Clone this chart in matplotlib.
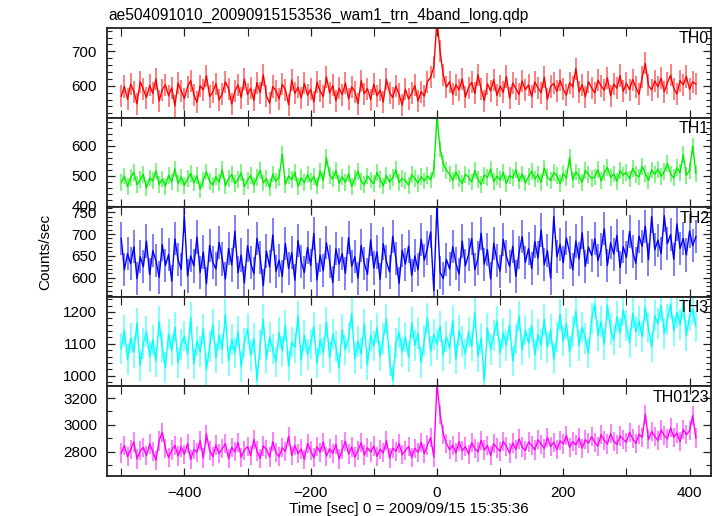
import numpy as np
import matplotlib
matplotlib.use("Agg")
import matplotlib.pyplot as plt
from matplotlib.ticker import MultipleLocator

plt.rcParams['font.family'] = ['Liberation Sans', 'DejaVu Sans']

title = "ae504091010_20090915153536_wam1_trn_4band_long.qdp"
xlabel = "Time [sec] 0 = 2009/09/15 15:35:36"
ylabel = "Counts/sec"
band_names = ["TH0", "TH1", "TH2", "TH3", "TH0123"]
band_colors = ["#ff0000", "#00ee00", "#0000ff", "#00ffff", "#ff00ff"]

time_start, time_stop, time_step = -500, 410, 5
time = np.arange(time_start, time_stop + 1, time_step)

th0 = [570, 598, 561, 605, 583, 548, 612, 590, 566, 601,
       578, 620, 556, 589, 603, 571, 594, 542, 608, 585,
       563, 597, 615, 574, 552, 600, 588, 629, 569, 582,
       606, 559, 577, 612, 591, 547, 584, 603, 566, 620,
       575, 593, 558, 609, 580, 632, 571, 550, 598, 586,
       562, 604, 589, 545, 617, 578, 596, 565, 607, 573,
       590, 553, 611, 584, 569, 626, 579, 601, 557, 593,
       574, 608, 562, 597, 583, 548, 615, 577, 592, 560,
       605, 571, 588, 553, 619, 580, 566, 599, 575, 544,
       590, 562, 578, 601, 556, 583, 570, 612, 625, 655,
       790, 700, 632, 596, 612, 575, 603, 588, 620, 567,
       595, 610, 578, 632, 590, 557, 606, 585, 618, 572,
       599, 581, 627, 564, 608, 592, 575, 614, 588, 603,
       569, 611, 594, 580, 625, 561, 598, 607, 584, 616,
       590, 573, 609, 597, 650, 582, 603, 568, 612, 594,
       579, 616, 600, 587, 623, 571, 605, 593, 630, 584,
       607, 589, 618, 596, 575, 625, 665, 601, 588, 614,
       597, 622, 583, 609, 631, 592, 576, 615, 603, 627,
       590, 612, 605]

th1 = [478, 499, 463, 494, 512, 470, 487, 505, 459, 492,
       483, 516, 471, 489, 465, 502, 479, 523, 474, 496,
       467, 491, 508, 476, 500, 455, 486, 513, 481, 469,
       497, 478, 520, 466, 491, 504, 473, 488, 510, 463,
       485, 501, 469, 495, 518, 476, 490, 460, 506, 482,
       494, 572, 471, 499, 487, 512, 465, 493, 477, 504,
       480, 497, 466, 516, 484, 560, 502, 489, 518, 475,
       496, 478, 507, 464, 492, 515, 481, 470, 499, 486,
       473, 511, 488, 466, 501, 479, 494, 520, 477, 490,
       484, 468, 503, 491, 475, 497, 482, 500, 486, 520,
       695, 590, 540, 518, 506, 484, 513, 491, 474, 505,
       496, 479, 517, 488, 471, 502, 494, 523, 480, 498,
       487, 511, 474, 500, 493, 519, 482, 506, 476, 497,
       515, 489, 503, 478, 526, 495, 484, 510, 501, 473,
       507, 492, 560, 486, 513, 499, 478, 518, 504, 491,
       496, 520, 483, 509, 528, 494, 506, 481, 517, 502,
       511, 489, 525, 503, 496, 531, 508, 484, 519, 505,
       522, 498, 514, 541, 506, 493, 527, 510, 570, 501,
       517, 600, 508]

th2 = [690, 618, 655, 632, 671, 598, 648, 625, 684, 607,
       662, 639, 601, 676, 628, 653, 592, 689, 641, 619,
       740, 604, 650, 627, 693, 612, 659, 586, 674, 635,
       620, 681, 643, 597, 667, 629, 706, 611, 652, 588,
       673, 634, 609, 690, 647, 582, 661, 625, 698, 614,
       640, 603, 678, 621, 657, 594, 685, 637, 612, 669,
       628, 701, 595, 652, 616, 680, 638, 589, 666, 631,
       655, 610, 692, 626, 648, 599, 674, 633, 608, 687,
       622, 659, 596, 678, 637, 613, 695, 644, 587, 663,
       631, 672, 605, 650, 618, 688, 640, 668, 705, 570,
       765, 612, 598, 642, 620, 671, 633, 608, 684, 627,
       653, 690, 618, 645, 702, 631, 664, 597, 679, 640,
       615, 688, 649, 626, 672, 603, 658, 694, 635, 667,
       621, 683, 645, 709, 630, 662, 599, 740, 648, 676,
       634, 691, 657, 618, 684, 643, 703, 626, 670, 651,
       689, 639, 665, 712, 628, 680, 654, 697, 623, 671,
       646, 706, 660, 633, 695, 672, 718, 641, 740, 664,
       686, 655, 742, 678, 699, 642, 723, 667, 690, 652,
       707, 673, 694]

th3 = [1085, 1142, 1050, 1118, 1073, 1165, 1032, 1101, 1138, 1060,
       1112, 1045, 1170, 1088, 1026, 1131, 1079, 1152, 1041, 1097,
       1124, 1068, 1183, 1037, 1109, 1075, 1146, 1019, 1092, 1160,
       1055, 1127, 1083, 1192, 1046, 1114, 1071, 1139, 1028, 1102,
       1148, 1063, 1117, 985, 1096, 1176, 1052, 1121, 1084, 1043,
       1135, 1077, 1158, 1030, 1105, 1089, 1187, 1048, 1126, 1066,
       1099, 1153, 1039, 1113, 1072, 1168, 1057, 1130, 1091, 1024,
       1144, 1081, 1119, 1195, 1054, 1108, 1069, 1162, 1035, 1126,
       1093, 1150, 1061, 1116, 1178, 1047, 985, 1103, 1136, 1074,
       1121, 1058, 1166, 1095, 1132, 1042, 1110, 1181, 1077, 1129,
       1098, 1155, 1064, 1122, 1086, 1173, 1052, 1141, 1107, 1068,
       1137, 1093, 1198, 1060, 1118, 985, 1149, 1082, 1126, 1171,
       1071, 1134, 1095, 1160, 1046, 1115, 1187, 1080, 1143, 1102,
       1158, 1065, 1129, 1097, 1176, 1088, 1144, 1053, 1121, 1192,
       1109, 1163, 1075, 1138, 1202, 1094, 1152, 1117, 1071, 1180,
       1225, 1126, 1169, 1098, 1222, 1145, 1112, 1185, 1134, 1205,
       1157, 1103, 1196, 1138, 1171, 1122, 1215, 1149, 1090, 1188,
       1163, 1220, 1132, 1176, 1225, 1141, 1198, 1160, 1226, 1125,
       1187, 1209, 1154]

th0123 = [2790, 2845, 2762, 2818, 2873, 2745, 2806, 2831, 2770, 2858,
          2801, 2736, 2880, 2945, 2825, 2755, 2812, 2847, 2768, 2835,
          2779, 2860, 2741, 2815, 2795, 2882, 2752, 2930, 2807, 2763,
          2850, 2786, 2821, 2860, 2747, 2833, 2799, 2868, 2758, 2811,
          2838, 2771, 2892, 2804, 2750, 2843, 2817, 2760, 2875, 2793,
          2762, 2829, 2801, 2915, 2772, 2846, 2785, 2819, 2740, 2862,
          2808, 2754, 2837, 2796, 2871, 2766, 2822, 2788, 2853, 2745,
          2815, 2877, 2783, 2834, 2759, 2811, 2866, 2774, 2829, 2797,
          2842, 2765, 2818, 2791, 2884, 2752, 2826, 2803, 2861, 2776,
          2809, 2839, 2757, 2824, 2795, 2870, 2785, 2850, 2905, 2760,
          3300, 3080, 2930, 2862, 2815, 2848, 2791, 2874, 2806, 2838,
          2781, 2867, 2823, 2798, 2885, 2812, 2846, 2770, 2859, 2828,
          2803, 2876, 2841, 2789, 2864, 2817, 2895, 2835, 2808, 2872,
          2847, 2812, 2889, 2856, 2824, 2906, 2838, 2870, 2815, 2881,
          2858, 2921, 2833, 2875, 2849, 2902, 2826, 2888, 2864, 2912,
          2869, 2841, 2926, 2884, 2857, 2935, 2878, 2853, 2917, 2893,
          2871, 2944, 2898, 2862, 2930, 2907, 3080, 2889, 2951, 2915,
          2883, 2962, 2920, 2896, 2978, 2908, 2940, 2874, 2965, 2927,
          2956, 3070, 2902]

errors = [32, 28, 38, 48, 72]
series = [th0, th1, th2, th3, th0123]
ylims = [(507, 767), (394, 694), (556, 761), (966, 1247), (2618, 3287)]
ymajor = [100, 100, 50, 100, 200]
yminor = [20, 20, 10, 20, 100]
xlim = (-523, 434)

fig = plt.figure(figsize=(7.17, 5.16), dpi=100)
W, H = 717.0, 516.0
left_px, right_px = 106.7, 711.0
top_px, bottom_px = 28.3, 476.0
ph = (bottom_px - top_px) / 5.0

axes = []
for i in range(5):
    y0 = top_px + ph * (i + 1)
    ax = fig.add_axes([left_px / W, 1 - y0 / H, (right_px - left_px) / W, ph / H])
    axes.append(ax)
    vals = np.array(series[i], dtype=float)
    col = band_colors[i]
    ax.vlines(time, vals - errors[i], vals + errors[i], color=col, alpha=0.5, lw=1.4)
    ax.plot(time, vals, color=col, lw=1.0)
    ax.set_xlim(*xlim)
    ax.set_ylim(*ylims[i])
    ax.yaxis.set_major_locator(MultipleLocator(ymajor[i]))
    ax.yaxis.set_minor_locator(MultipleLocator(yminor[i]))
    ax.xaxis.set_major_locator(MultipleLocator(200))
    ax.xaxis.set_minor_locator(MultipleLocator(100))
    ax.tick_params(which='both', direction='in', top=True, right=True,
                   color='#222222', labelsize=11, pad=7)
    ax.tick_params(which='major', length=6, width=0.9)
    ax.tick_params(which='minor', length=3.5, width=0.8)
    ax.tick_params(axis='x', which='minor', length=6)
    for s in ax.spines.values():
        s.set_linewidth(1.3)
        s.set_color('#222222')
    if i < 4:
        ax.tick_params(axis='x', labelbottom=False)
    ax.text(0.997, 0.965, band_names[i], transform=ax.transAxes,
            ha='right', va='top', fontsize=11.5)

axes[-1].set_xlabel(xlabel, fontsize=11, labelpad=2)
fig.text(45 / W, 1 - 252 / H, ylabel, rotation=90, ha='center', va='center', fontsize=11)
fig.text(108 / W, 1 - 20 / H, title, ha='left', va='baseline', fontsize=11.2)

fig.savefig("out.png", dpi=100)
